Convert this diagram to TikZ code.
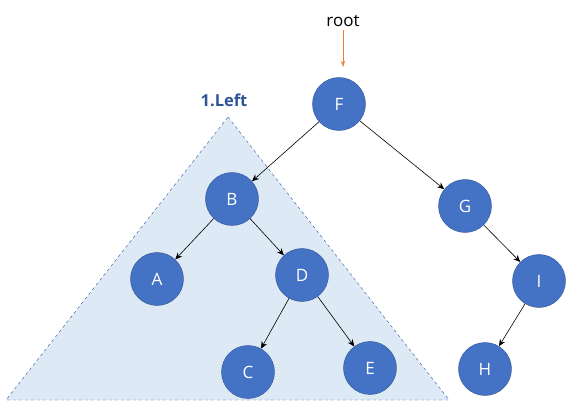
\documentclass[tikz,border=0pt]{standalone}
\usepackage{fontspec}
\setmainfont{Open Sans}
\usepackage{tikz}
\usetikzlibrary{arrows.meta, positioning}
\definecolor{nodeblue}{RGB}{68, 114, 196}
\definecolor{nodeedge}{RGB}{47, 82, 143}
\definecolor{subfill}{RGB}{222, 233, 246}
\definecolor{subedge}{RGB}{47, 85, 151}
\definecolor{rootorange}{RGB}{237, 125, 49}

\begin{document}
\begin{tikzpicture}[
    x=1pt, y=-1pt,
    vertex/.style={circle, draw=nodeedge, fill=nodeblue, minimum size=53pt, inner sep=0pt, text=white, font=\fontsize{17}{20}\selectfont},
    link/.style={-{Stealth[length=7pt, width=6pt]}, semithick, black},
    subtree/.style={draw=subedge, fill=subfill, dashed, thin}
]
\useasboundingbox (0,0) rectangle (586,419);

% left subtree area
\coordinate (top) at (228,117);
\coordinate (bl) at (6,400);
\coordinate (br) at (449,400);
\draw[subtree] (top) -- (br) -- (bl) -- cycle;
\node[font=\fontsize{16.5}{19}\selectfont\bfseries, text=subedge] (lbl) at (224,100) {1.Left};

\node[vertex] (F) at (339,104) {F};
\node[vertex] (B) at (232,199) {B};
\node[vertex] (G) at (465,206) {G};
\node[vertex] (A) at (157,279) {A};
\node[vertex] (D) at (302,275) {D};
\node[vertex] (I) at (539,281) {I};
\node[vertex] (C) at (248,372) {C};
\node[vertex] (E) at (370,368) {E};
\node[vertex] (H) at (485,369) {H};

\node[font=\fontsize{17}{20}\selectfont] (root) at (343,21) {root};
\coordinate (rootend) at (343,67);
\draw[-{Stealth[length=6pt, width=4pt]}, rootorange, thin] (root.south) -- (rootend);

\draw[link] (F) -- (B);
\draw[link] (F) -- (G);
\draw[link] (B) -- (A);
\draw[link] (B) -- (D);
\draw[link] (D) -- (C);
\draw[link] (D) -- (E);
\draw[link] (G) -- (I);
\draw[link] (I) -- (H);

\end{tikzpicture}
\end{document}
